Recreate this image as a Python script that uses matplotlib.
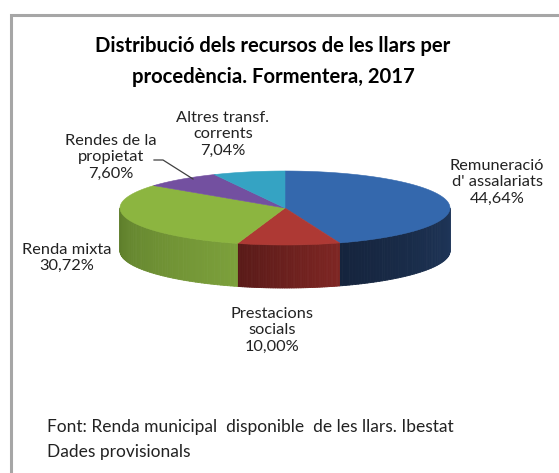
import numpy as np
import matplotlib.pyplot as plt
from matplotlib.patches import Polygon
from matplotlib.collections import PolyCollection
from matplotlib.colors import to_rgb

# data
labels = ["Remuneració\nd' assalariats", "Prestacions\nsocials", "Renda mixta",
          "Rendes de la\npropietat", "Altres transf.\ncorrents"]
shares = [44.64, 10.00, 30.72, 7.60, 7.04]
top_colors = ["#3468AD", "#AE3934", "#8CB540", "#7350A0", "#35A3C3"]
side_left = ["#1F375B", "#7F2623", "#7CA03B", "#4E3470", "#23718A"]
side_right = ["#15243D", "#591A18", "#5E7E2B", "#3A2654", "#1A5566"]

plt.rcParams['font.family'] = ['Lato', 'DejaVu Sans']

fig = plt.figure(figsize=(5.59, 4.73), dpi=100)
ax = fig.add_axes([0, 0, 1, 1])
ax.set_xlim(0, 559)
ax.set_ylim(473, 0)
ax.axis('off')

# chart frame (only top and left visible)
ax.plot([10.5, 10.5, 559], [473, 15.5, 15.5], color='#A6A6A6', lw=2.2,
        solid_capstyle='butt', solid_joinstyle='miter')

# pie geometry (pixels)
cx, cy, a, b, depth = 285, 208, 165, 37, 43

def ell(t):
    t = np.radians(t)
    return cx + a * np.cos(t), cy - b * np.sin(t)

# angles: start at top, clockwise
fr = np.array(shares) / sum(shares)
ends = 90 - 360 * np.cumsum(fr)
starts = np.concatenate([[90], ends[:-1]])

# outer walls (front half only)
for i in range(len(shares)):
    lo, hi = ends[i], starts[i]
    for off in (0, -360, 360):
        l2, h2 = max(lo + off, -180), min(hi + off, 0)
        if h2 <= l2:
            continue
        ts = np.linspace(h2, l2, 60)
        polys, cols = [], []
        c0, c1 = np.array(to_rgb(side_left[i])), np.array(to_rgb(side_right[i]))
        for k in range(len(ts) - 1):
            x0, y0 = ell(ts[k])
            x1, y1 = ell(ts[k + 1])
            polys.append([(x0, y0), (x1, y1), (x1, y1 + depth), (x0, y0 + depth)])
            f = (k + 0.5) / (len(ts) - 1)
            cols.append(c0 * (1 - f) + c1 * f)
        ax.add_collection(PolyCollection(polys, facecolors=cols, edgecolors=cols,
                                         linewidths=0.6))

# top surfaces
for i in range(len(shares)):
    ts = np.linspace(starts[i], ends[i], 120)
    xs, ys = ell(ts)
    pts = np.column_stack([np.concatenate([[cx], xs]), np.concatenate([[cy], ys])])
    ax.add_patch(Polygon(pts, closed=True, facecolor=top_colors[i],
                         edgecolor=top_colors[i], lw=0.4))

# title
ax.text(273, 46, "Distribució dels recursos de les llars per", ha='center', va='center',
        fontsize=14.6, fontweight='bold')
ax.text(273, 77, "procedència. Formentera, 2017", ha='center', va='center',
        fontsize=14.6, fontweight='bold')

# data labels
lab_fs = 11.8
pct = [f"{v:.2f}".replace('.', ',') + "%" for v in shares]
lab_pos = [(497, 182), (272, 330), (67, 258), (111, 157), (223, 134)]
for i, (x, y) in enumerate(lab_pos):
    ax.text(x, y, labels[i] + "\n" + pct[i], ha='center', va='center',
            fontsize=lab_fs, linespacing=1.22, color='#222222')

# leader line for Rendes de la propietat
ax.plot([154, 163, 193], [160, 160, 179], color='#404040', lw=0.9)

# footer
ax.text(47, 427, "Font: Renda municipal  disponible  de les llars. Ibestat",
        ha='left', va='center', fontsize=12.5, color='#222222')
ax.text(47, 452, "Dades provisionals", ha='left', va='center', fontsize=12.5,
        color='#222222')

fig.savefig("out.png", dpi=100)
